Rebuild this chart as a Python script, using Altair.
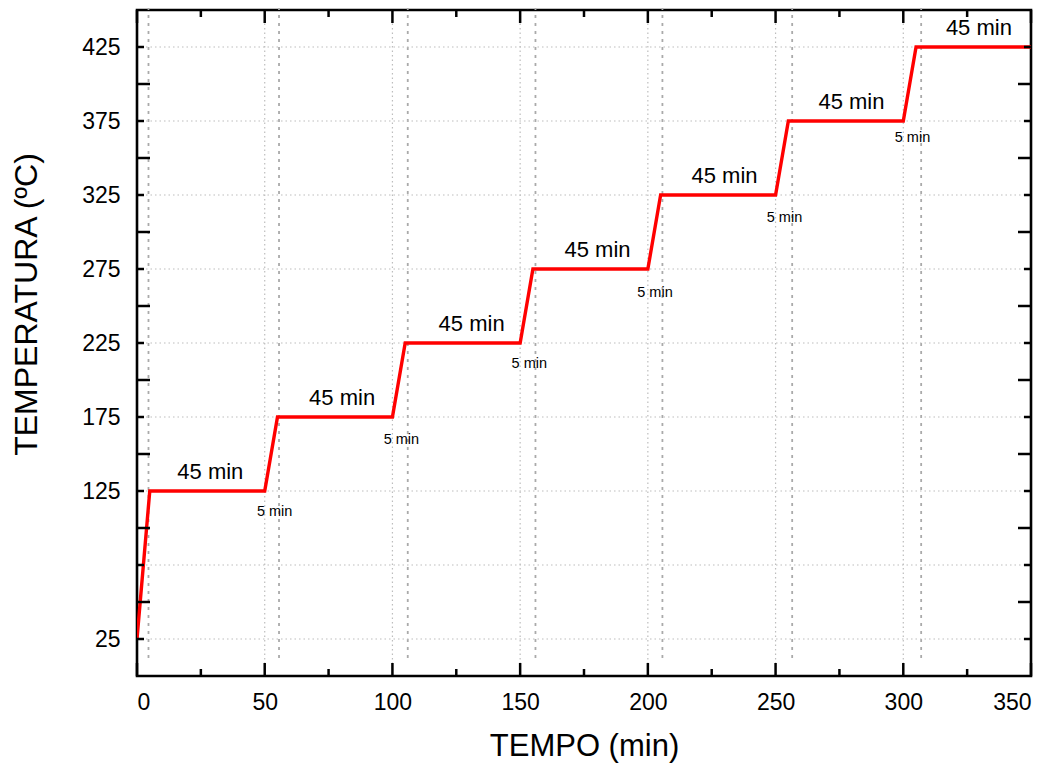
import altair as alt
import pandas as pd

# ---- data ----
times = [0, 5, 50, 55, 100, 105, 150, 155, 200, 205, 250, 255, 300, 305, 350]
temps = [25, 125, 125, 175, 175, 225, 225, 275, 275, 325, 325, 375, 375, 425, 425]

hold_label_x = [28.7, 80.3, 131, 180.3, 230, 279.7, 329.6]
hold_label_y = [125, 175, 225, 275, 325, 375, 425]
hold_text = ["45 min"] * 7

ramp_label_x = [53.9, 103.5, 153.6, 202.8, 253.5, 303.6]
ramp_label_y = [108.2, 156.8, 207.9, 256.0, 306.8, 360.9]
ramp_text = ["5 min"] * 6

x_ticks_major = [0, 50, 100, 150, 200, 250, 300, 350]
x_ticks_minor = [25, 75, 125, 175, 225, 275, 325]
y_ticks_major = [50, 100, 150, 200, 250, 300, 350, 400]
y_ticks_minor = [25, 75, 125, 175, 225, 275, 325, 375, 425]
y_labels = [25, 125, 175, 225, 275, 325, 375, 425]

x_grid_dotted = [50, 100, 150, 200, 250, 300]
x_grid_dashed = [4.5, 55.6, 106, 156, 205.7, 256.5, 307]
y_grid_dotted = [25, 75, 125, 175, 225, 275, 325, 375, 425]

W, H = 894, 666
FONT = "Liberation Sans"

xs = alt.Scale(domain=[0, 350], nice=False, zero=False)
ys = alt.Scale(domain=[0, 450], nice=False, zero=False)

line_df = pd.DataFrame({"t": times, "T": temps})
hold_df = pd.DataFrame({"x": hold_label_x, "y": hold_label_y, "txt": hold_text})
ramp_df = pd.DataFrame({"x": ramp_label_x, "y": ramp_label_y, "txt": ramp_text})

def df1(name, vals):
    return pd.DataFrame({name: vals})

# grids
vgrid_dot = alt.Chart(df1("x", x_grid_dotted)).mark_rule(
    color="#bdbdbd", strokeWidth=1.2, strokeDash=[1.5, 3]
).encode(x=alt.X("x:Q", scale=xs), y=alt.value(0), y2=alt.value(H))

vgrid_dash = alt.Chart(df1("x", x_grid_dashed)).mark_rule(
    color="#aaaaaa", strokeWidth=1.8, strokeDash=[3, 5]
).encode(x=alt.X("x:Q", scale=xs), y=alt.value(-3), y2=alt.value(H - 13))

hgrid_dot = alt.Chart(df1("y", y_grid_dotted)).mark_rule(
    color="#bdbdbd", strokeWidth=1.2, strokeDash=[1.5, 3]
).encode(y=alt.Y("y:Q", scale=ys), x=alt.value(0), x2=alt.value(W))

# main line with axes
line = alt.Chart(line_df).mark_line(color="#ff0000", strokeWidth=3.4, clip=True).encode(
    x=alt.X(
        "t:Q",
        scale=xs,
        axis=alt.Axis(
            title="TEMPO (min)",
            values=x_ticks_major,
            ticks=False,
            domain=False,
            grid=False,
            labelFontSize=23,
            labelPadding=15,
            labelColor="black",
            titleFontSize=31,
            titleFontWeight="normal",
            titleColor="black",
            titlePadding=17,
            labelFont=FONT,
            titleFont=FONT,
        ),
    ),
    y=alt.Y(
        "T:Q",
        scale=ys,
        axis=alt.Axis(
            title="TEMPERATURA (ºC)",
            values=y_labels,
            ticks=False,
            domain=False,
            grid=False,
            labelFontSize=23,
            labelPadding=17,
            labelColor="black",
            titleFontSize=32,
            titleFontWeight="normal",
            titleColor="black",
            titlePadding=38,
            titleY=294,
            labelFont=FONT,
            titleFont=FONT,
        ),
    ),
)

hold_txt = alt.Chart(hold_df).mark_text(
    font=FONT, fontSize=22, color="black", baseline="alphabetic", align="center", dy=-12
).encode(x=alt.X("x:Q", scale=xs), y=alt.Y("y:Q", scale=ys), text="txt:N")

ramp_txt = alt.Chart(ramp_df).mark_text(
    font=FONT, fontSize=14.5, color="black", baseline="alphabetic", align="center"
).encode(x=alt.X("x:Q", scale=xs), y=alt.Y("y:Q", scale=ys), text="txt:N")

# inward ticks
tick_style = dict(color="black", strokeWidth=2.5)
xb_major = alt.Chart(df1("x", x_ticks_major)).mark_rule(**tick_style).encode(
    x=alt.X("x:Q", scale=xs), y=alt.value(H), y2=alt.value(H - 13))
xb_minor = alt.Chart(df1("x", x_ticks_minor)).mark_rule(**tick_style).encode(
    x=alt.X("x:Q", scale=xs), y=alt.value(H), y2=alt.value(H - 7))
xt_major = alt.Chart(df1("x", x_ticks_major)).mark_rule(**tick_style).encode(
    x=alt.X("x:Q", scale=xs), y=alt.value(0), y2=alt.value(13))
xt_minor = alt.Chart(df1("x", x_ticks_minor)).mark_rule(**tick_style).encode(
    x=alt.X("x:Q", scale=xs), y=alt.value(0), y2=alt.value(7))
yl_major = alt.Chart(df1("y", y_ticks_major)).mark_rule(**tick_style).encode(
    y=alt.Y("y:Q", scale=ys), x=alt.value(0), x2=alt.value(13))
yl_minor = alt.Chart(df1("y", y_ticks_minor)).mark_rule(**tick_style).encode(
    y=alt.Y("y:Q", scale=ys), x=alt.value(0), x2=alt.value(7))
yr_major = alt.Chart(df1("y", y_ticks_major)).mark_rule(**tick_style).encode(
    y=alt.Y("y:Q", scale=ys), x=alt.value(W), x2=alt.value(W - 13))
yr_minor = alt.Chart(df1("y", y_ticks_minor)).mark_rule(**tick_style).encode(
    y=alt.Y("y:Q", scale=ys), x=alt.value(W), x2=alt.value(W - 7))

chart = alt.layer(
    vgrid_dot, vgrid_dash, hgrid_dot, line, hold_txt, ramp_txt,
    xb_major, xb_minor, xt_major, xt_minor, yl_major, yl_minor, yr_major, yr_minor,
).properties(
    width=W, height=H,
    autosize=alt.AutoSizeParams(type="none"),
    padding={"left": 129, "top": 2, "right": 17, "bottom": 89},
).configure(
    background="white"
).configure_view(
    stroke="black", strokeWidth=2.6
)

chart.save("out.html", embed_options={"renderer": "svg", "actions": False})
